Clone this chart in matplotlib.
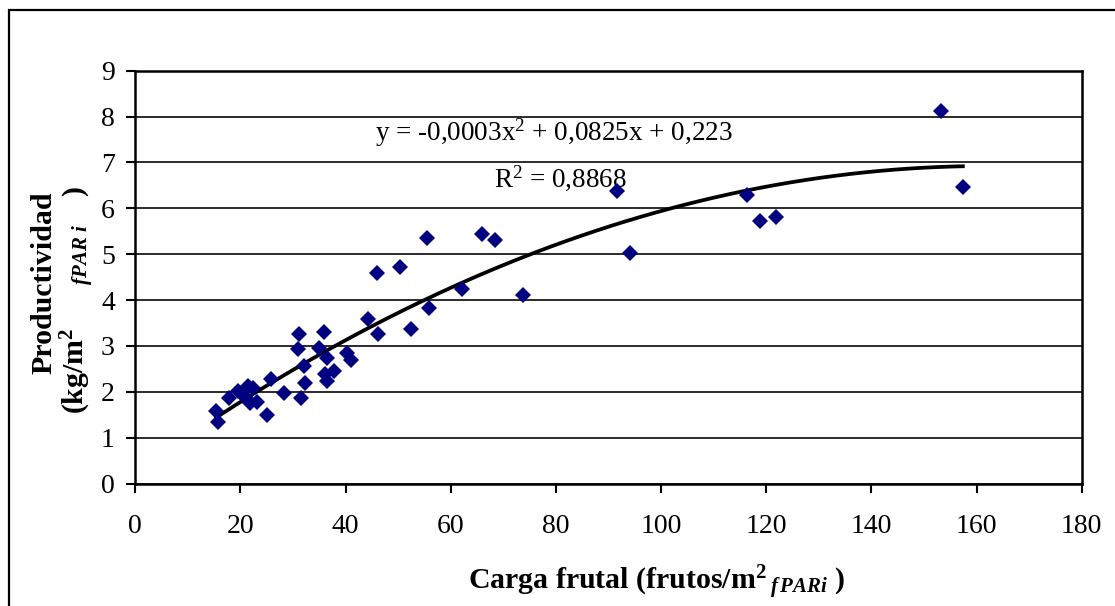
import numpy as np
import matplotlib
matplotlib.use("Agg")
import matplotlib.pyplot as plt
from matplotlib.patches import Rectangle

# data
carga = [15.4, 15.8, 17.9, 19.6, 20.4, 21.5, 22.4, 21.2, 21.8, 23.1, 25.0,
         25.9, 28.2, 31.5, 31.2, 30.9, 35.8, 34.9, 32.0, 32.3, 36.4, 36.1,
         37.8, 36.4, 40.3, 41.0, 44.2, 46.2, 46.0, 50.3, 52.4, 55.5, 55.9,
         62.1, 65.9, 68.5, 73.7, 91.6, 94.0, 116.3, 118.9, 121.8, 153.2, 157.4]
productividad = [1.59, 1.35, 1.86, 2.02, 1.93, 2.13, 2.08, 1.84, 1.76, 1.78, 1.49,
                 2.28, 1.98, 1.87, 3.25, 2.93, 3.31, 2.96, 2.56, 2.20, 2.73, 2.39,
                 2.46, 2.23, 2.84, 2.69, 3.58, 3.27, 4.60, 4.73, 3.37, 5.35, 3.82,
                 4.23, 5.44, 5.31, 4.11, 6.38, 5.02, 6.30, 5.72, 5.80, 8.12, 6.47]
x_ticks = [0, 20, 40, 60, 80, 100, 120, 140, 160, 180]
y_ticks = [0, 1, 2, 3, 4, 5, 6, 7, 8, 9]

plt.rcParams['font.family'] = 'Liberation Serif'
plt.rcParams['mathtext.fontset'] = 'custom'
plt.rcParams['mathtext.rm'] = 'Liberation Serif'
plt.rcParams['mathtext.it'] = 'Liberation Serif:italic'
plt.rcParams['mathtext.bf'] = 'Liberation Serif:bold'
plt.rcParams['mathtext.bfit'] = 'Liberation Serif:italic:bold'

W, H = 1115, 606
fig = plt.figure(figsize=(W / 100, H / 100), dpi=100)
ax = fig.add_axes([135.3 / W, 1 - 483.5 / H, (1081.7 - 135.3) / W, (483.5 - 70.7) / H])

# outer chart frame (runs off the right and bottom edge)
fig.add_artist(Rectangle((8.5 / W, -0.2), 2.0, 1.2 - 9.5 / H, transform=fig.transFigure,
                         fill=False, edgecolor='black', linewidth=1.6))

# trend line (2nd order polynomial, like the spreadsheet one)
coef = np.polyfit(carga, productividad, 2)
xs = np.linspace(min(carga), max(carga), 200)
ax.plot(xs, np.polyval(coef, xs), color='black', linewidth=2.7, zorder=3)

ax.plot(carga, productividad, linestyle='none', marker='D', markersize=8.3,
        color='#000080', markeredgewidth=0, zorder=4)

ax.set_xlim(0, 180)
ax.set_ylim(0, 9)
ax.set_xticks(x_ticks)
ax.set_yticks(y_ticks)
ax.tick_params(axis='both', direction='out', length=6.7, width=1.5, labelsize=20)
ax.tick_params(axis='x', pad=15)
ax.tick_params(axis='y', pad=8)
ax.grid(axis='y', color='#1a1a1a', linewidth=1.3)
ax.set_axisbelow(True)
for s in ax.spines.values():
    s.set_linewidth(1.8)
    s.set_color('black')

ax.text(45.6, 7.65, r"y = -0,0003x$^{2}$ + 0,0825x + 0,223", fontsize=19.5, va='center', ha='left')
ax.text(68.3, 6.65, r"R$^{2}$ = 0,8868", fontsize=19.5, va='center', ha='left')

fig.text(468 / W, 1 - 583 / H, r"Carga frutal (frutos/m$^{\mathbf{2}}\,_{\mathbfit{f\,PARi}}$ )",
         fontsize=21.5, fontweight='bold', ha='left', va='center')
fig.text(44 / W, 1 - 283 / H, "Productividad", fontsize=21.5, fontweight='bold',
         rotation=90, ha='center', va='center')
fig.text(78 / W, 1 - 300 / H, r"(kg/m$^{\mathbf{2}}\quad\quad_{\mathbfit{fPAR\ i}}\quad\ $)",
         fontsize=21.5, fontweight='bold', rotation=90, ha='center', va='center')

fig.savefig("out.png", dpi=100)
